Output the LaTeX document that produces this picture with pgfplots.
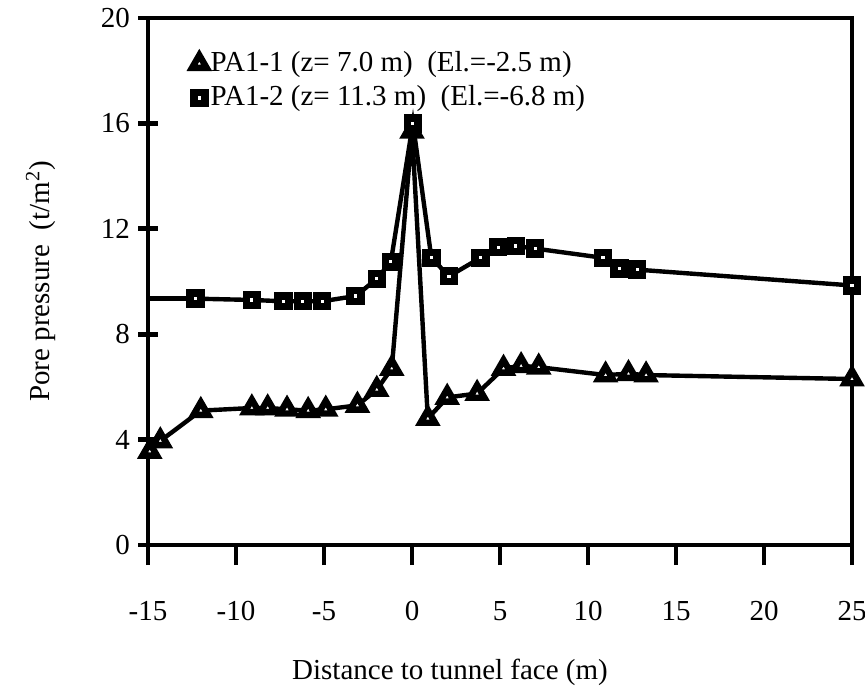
\documentclass[border=0pt]{standalone}
\usepackage{fontspec}
\setmainfont{Liberation Serif}
\usepackage{pgfplots}
\pgfplotsset{compat=1.18}

\begin{document}
\fontsize{14.5}{17}\selectfont
\begin{tikzpicture}
\useasboundingbox (-74pt,-74pt) rectangle (358.5pt,272.5pt);
\begin{axis}[
    at={(0,0)}, anchor=south west,
    scale only axis,
    width=352pt, height=263.5pt,
    xmin=-15, xmax=25, ymin=0, ymax=20,
    xtick={-15,-10,...,25}, ytick={0,4,...,20},
    axis line style={line width=2.4pt},
    tick style={line width=2.4pt, black},
    major tick length=10pt,
    xtick pos=bottom, ytick pos=left,
    x tick label style={yshift=-13pt},
    y tick label style={xshift=1pt},
    xtick align=outside, ytick align=center,
    /pgf/number format/assume math mode=true,
    xlabel={Distance to tunnel face (m)},
    ylabel={Pore pressure\ \ (t/m\textsuperscript{2})},
    xlabel style={at={(axis description cs:0.429,0)}, anchor=north, yshift=-52pt},
    ylabel style={at={(axis description cs:0,0.5)}, anchor=south, yshift=41pt},
    legend style={draw=none, fill=none, at={(axis description cs:0.062,0.945)},
      anchor=north west, row sep=1pt, inner sep=0pt,
      nodes={inner sep=2pt}},
    legend cell align=left,
    legend image code/.code={\draw[#1] plot coordinates {(0.12cm,0cm)};},
    clip=false,
]
\addplot[black, line width=2.2pt, mark=triangle*, mark size=4.2pt,
  mark options={fill=white, line width=3.2pt, solid}] coordinates {
  (-14.9,3.55) (-14.3,3.95) (-12.0,5.1) (-9.1,5.2) (-8.2,5.2) (-7.1,5.15)
  (-5.9,5.1) (-4.9,5.15) (-3.1,5.3) (-2.0,5.9) (-1.15,6.7) (0.0,15.7)
  (0.9,4.8) (2.0,5.6) (3.7,5.75) (5.2,6.7) (6.2,6.8) (7.2,6.75)
  (11.0,6.45) (12.3,6.5) (13.3,6.45) (25,6.3)
};
\addlegendentry{PA1-1 (z= 7.0 m)\ \ (El.=-2.5 m)}
\addplot[black, line width=2.2pt, forget plot] coordinates {(-15,9.35) (-12.3,9.35)};
\addplot[black, line width=2.2pt, mark=square*, mark size=2.7pt,
  mark options={fill=white, line width=3.8pt, solid}] coordinates {
  (-12.3,9.35) (-9.1,9.3) (-7.3,9.25) (-6.2,9.25) (-5.1,9.25) (-3.2,9.45)
  (-2.0,10.1) (-1.2,10.75) (0.05,16.0) (1.1,10.9) (2.1,10.2) (3.9,10.9)
  (4.9,11.3) (5.9,11.35) (7.0,11.25) (10.85,10.9) (11.8,10.5) (12.8,10.45)
  (25,9.85)
};
\addlegendentry{PA1-2 (z= 11.3 m)\ \ (El.=-6.8 m)}
\end{axis}
\end{tikzpicture}
\end{document}
